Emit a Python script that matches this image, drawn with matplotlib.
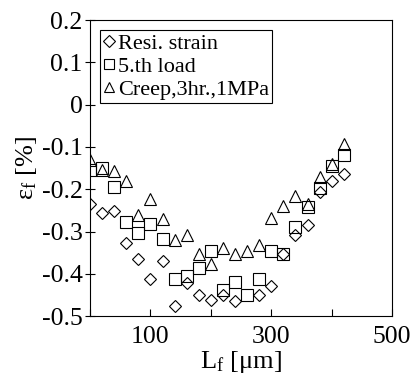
import matplotlib
matplotlib.use('Agg')
import matplotlib.pyplot as plt

plt.rcParams['font.family'] = 'Liberation Serif'
plt.rcParams['mathtext.fontset'] = 'custom'
plt.rcParams['mathtext.rm'] = 'Liberation Serif'
plt.rcParams['mathtext.it'] = 'Liberation Serif:italic'

lf = [0, 20, 40, 60, 80, 100, 120, 140, 160, 180, 200, 220, 240, 260, 280, 300, 320, 340, 360, 380, 400, 420]
lf_resi = [0, 20, 40, 60, 80, 100, 120, 140, 160, 180, 200, 220, 240, 280, 300, 320, 340, 360, 380, 400, 420]
resi = [-0.235, -0.256, -0.252, -0.327, -0.366, -0.412, -0.370, -0.475, -0.421, -0.451, -0.461,
        -0.449, -0.465, -0.451, -0.428, -0.354, -0.309, -0.285, -0.207, -0.180, -0.165]
load5 = [-0.154, -0.150, -0.195, -0.278, -0.303, -0.283, -0.317, -0.413, -0.406, -0.387, -0.346,
         -0.439, -0.420, -0.451, -0.412, -0.346, -0.354, -0.290, -0.242, -0.197, -0.146, -0.120]
creep = [-0.132, -0.154, -0.156, -0.180, -0.262, -0.224, -0.270, -0.319, -0.309, -0.354, -0.376,
         -0.339, -0.354, -0.346, -0.331, -0.268, -0.240, -0.217, -0.235, -0.171, -0.140, -0.094]

fig = plt.figure(figsize=(4.15, 3.79), dpi=100)
ax = fig.add_axes([0.217, 0.166, 0.728, 0.781])

ax.plot(lf_resi, resi, 'D', mfc='none', mec='black', ms=6.5, mew=0.8, label='Resi. strain')
ax.plot(lf, load5, 's', mfc='none', mec='black', ms=8, mew=0.8, label='5.th load')
ax.plot(lf, creep, '^', mfc='none', mec='black', ms=8.5, mew=0.8, label='Creep,3hr.,1MPa')

ax.set_xlim(0, 500)
ax.set_ylim(-0.5, 0.2)
ax.set_xticks([0, 100, 200, 300, 400, 500])
ax.set_xticklabels(['', '100', '', '300', '', '500'])
ax.set_yticks([-0.5, -0.4, -0.3, -0.2, -0.1, 0, 0.1, 0.2])
ax.set_yticklabels(['-0.5', '-0.4', '-0.3', '-0.2', '-0.1', '0', '0.1', '0.2'])
ax.tick_params(axis='x', direction='in', length=5, labelsize=18.5, pad=7)
ax.tick_params(axis='y', direction='inout', length=7, labelsize=18.5, pad=2)

ax.set_xlabel(r'L$_\mathrm{f}$ [μm]', fontsize=19, labelpad=1)
ax.set_ylabel(r'$\mathrm{ε}_\mathrm{f}$ [%]', fontsize=19, labelpad=2)

leg = ax.legend(loc='upper left', fontsize=16, handlelength=0.5, handletextpad=0.15,
                borderpad=0.15, labelspacing=0.1, borderaxespad=0.45, fancybox=False,
                framealpha=1, edgecolor='black', markerscale=0.9)
leg.get_frame().set_linewidth(0.8)

fig.savefig('out.png', dpi=100)
